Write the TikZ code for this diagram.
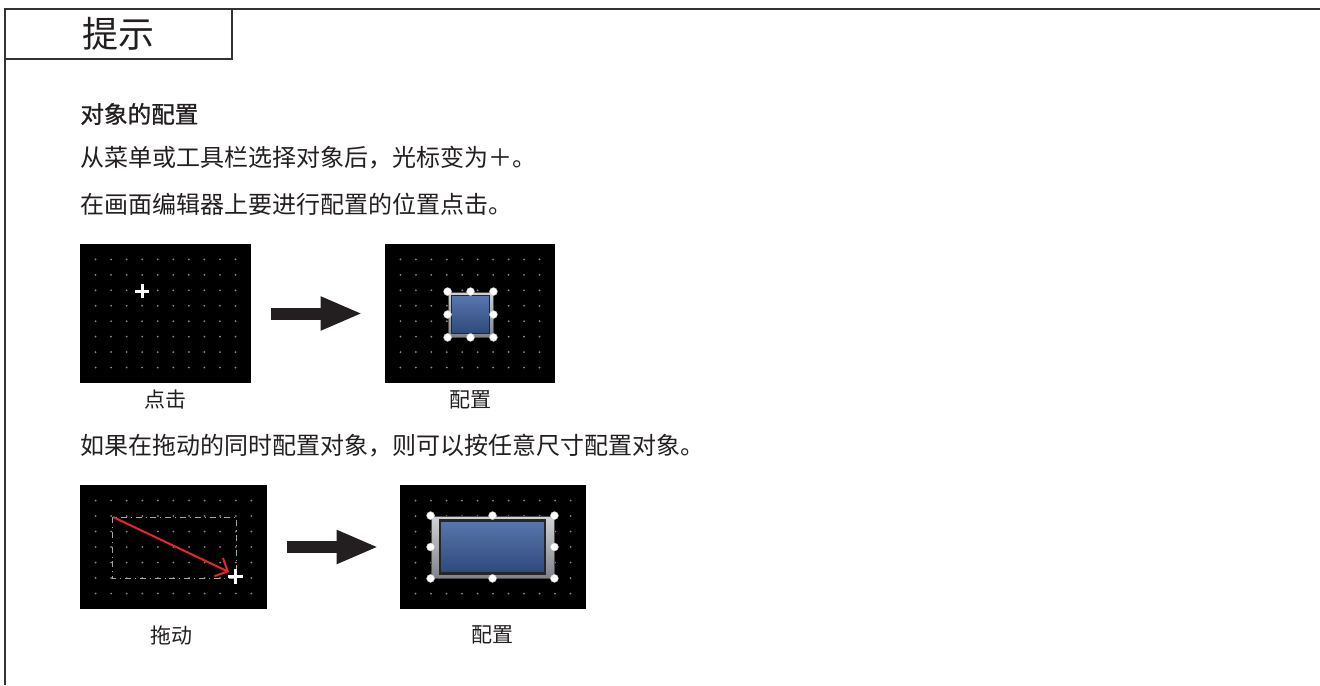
\documentclass[tikz,border=0pt]{standalone}
\usepackage{fontspec}
\newfontfamily\cjk{Noto Sans CJK SC}
\newfontfamily\cjkhead[FakeBold=1]{Noto Sans CJK SC}
\usetikzlibrary{arrows.meta}
\definecolor{inkc}{HTML}{231F20}
\definecolor{linec}{HTML}{333333}
\definecolor{dotc}{HTML}{8C8C8C}
\definecolor{framec}{HTML}{A9AEB6}
\definecolor{bluetop}{HTML}{5877AE}
\definecolor{bluebot}{HTML}{2E4879}
\definecolor{dragred}{HTML}{E6262B}
\begin{document}
\begin{tikzpicture}[x=0.5pt,y=-0.5pt,
    every node/.style={inner sep=0pt, text=inkc},
    tab/.style={draw=linec, line width=1pt, minimum width=113.5pt, minimum height=25pt, font=\cjk\fontsize{18pt}{20pt}\selectfont},
    head/.style={anchor=west, font=\cjkhead\fontsize{11.8pt}{14pt}\selectfont},
    txt/.style={anchor=west, font=\cjk\fontsize{12pt}{14pt}\selectfont},
    caption/.style={font=\cjk\fontsize{10.5pt}{13pt}\selectfont},
    screen/.style={fill=black},
    bigarrow/.style={draw=inkc, line width=6pt, -{Triangle[length=21pt,width=15.5pt]}},
    dragarrow/.style={draw=dragred, line width=1pt, -{Straight Barb[length=5pt,width=10pt]}},
    cursor/.style={draw=white, line width=1.5pt},
    selbox/.style={draw=gray!70, line width=0.4pt, dash dot},
    objframe/.style={top color=framec!55!white, bottom color=framec!75!black, draw=gray!60!black, line width=0.4pt},
    objface/.style={top color=bluetop, bottom color=bluebot, draw=black!85, line width=0.8pt},
    handle/.style={circle, fill=white, draw=gray!50, line width=0.2pt, minimum size=4pt}]
  \useasboundingbox (0,0) rectangle (1320,685);

  \draw[linec, line width=1pt] (5,685) -- (5,9) -- (1320,9);
  \node[tab] (tip) at (118.5,34) {提示};

  \node[head] (h1) at (80,114) {对象的配置};
  \node[txt] (t1) at (80,158) {从菜单或工具栏选择对象后，光标变为＋。};
  \node[txt] (t2) at (80,204) {在画面编辑器上要进行配置的位置点击。};

  \node[screen, minimum width=85.5pt, minimum height=69.5pt] (scr1) at (165.5,313.5) {};
  \node[screen, minimum width=85pt, minimum height=69.5pt] (scr2) at (470,313.5) {};
  \node[caption] (c1) at (165.5,400) {点击};
  \node[caption] (c2) at (470,400) {配置};

  \node[txt] (t3) at (80,446) {如果在拖动的同时配置对象，则可以按任意尺寸配置对象。};

  \node[screen, minimum width=93.5pt, minimum height=62pt] (scr3) at (173.5,547) {};
  \node[screen, minimum width=93pt, minimum height=62pt] (scr4) at (493,547) {};
  \node[caption] (c3) at (171,635) {拖动};
  \node[caption] (c4) at (492,635) {配置};

  % grid dots
  \foreach \sx/\sy/\nx/\ny/\dx/\dy in {80/244/10/8/15.55/15.44, 385/244/10/8/15.45/15.44,
      80/485/11/7/15.58/15.5, 400/485/11/7/15.5/15.5}
    \foreach \i in {1,...,\nx}
      \foreach \j in {1,...,\ny}
        \fill[dotc] (\sx+\i*\dx, \sy+\j*\dy) circle (0.5pt);

  \draw[bigarrow, shorten <=10pt, shorten >=11pt] (scr1) -- (scr2);
  \draw[bigarrow, shorten <=10pt, shorten >=10.5pt] (scr3) -- (scr4);

  \coordinate (cur1) at (142,291);
  \draw[cursor] (cur1) +(-7,0) -- +(7,0) (cur1) +(0,-7) -- +(0,7);

  \node[objframe, minimum width=22.5pt, minimum height=22.5pt] (obj1) at (470.5,314.5) {};
  \node[objface, minimum width=19pt, minimum height=19pt] (face1) at (obj1) {};
  \foreach \a in {north west, north, north east, east, south east, south, south west, west}
    \node[handle] at (obj1.\a) {};

  \draw[selbox] (112,517) rectangle (236,578);
  \coordinate (dragA) at (113,517);
  \coordinate (dragB) at (229,572);
  \draw[dragarrow] (dragA) -- (dragB);
  \coordinate (cur2) at (235.5,576.5);
  \draw[cursor] (cur2) +(-7.5,0) -- +(7.5,0) (cur2) +(0,-7.5) -- +(0,7.5);

  \node[objframe, minimum width=61.5pt, minimum height=31pt] (obj2) at (492.5,547) {};
  \node[objface, minimum width=52.5pt, minimum height=26.5pt, line width=1.2pt] (face2) at (obj2) {};
  \foreach \a in {north west, north, north east, east, south east, south, south west, west}
    \node[handle] at (obj2.\a) {};
\end{tikzpicture}
\end{document}
